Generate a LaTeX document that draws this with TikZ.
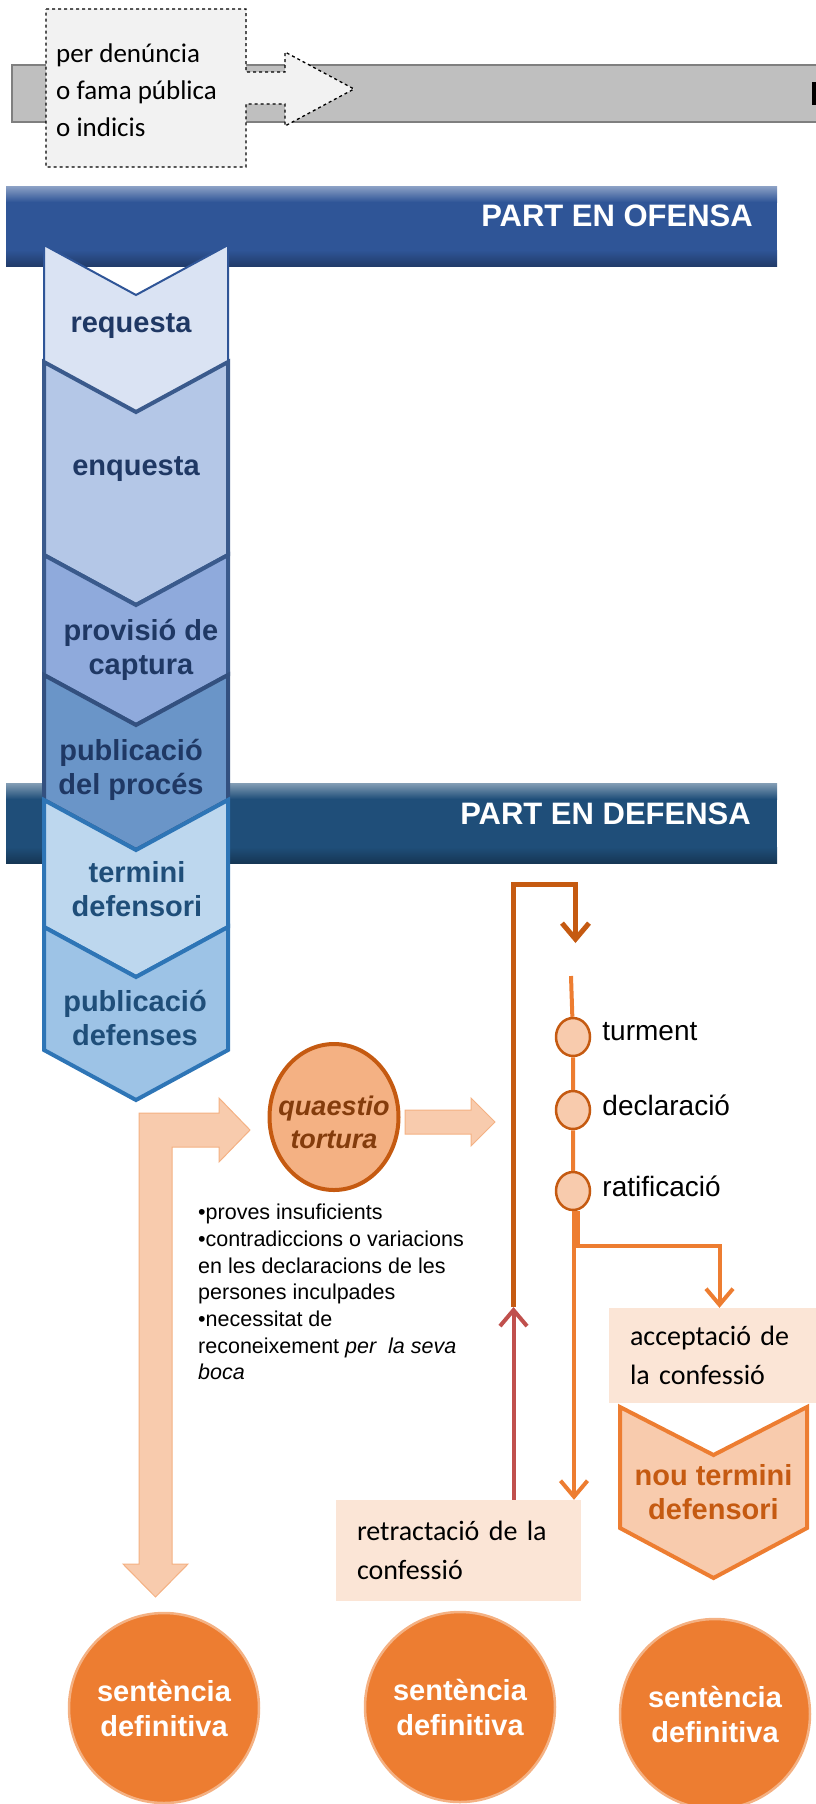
\documentclass[tikz,border=0pt]{standalone}
\usepackage{fontspec}
\setmainfont{Liberation Sans}
\newfontfamily\calibrifont{Carlito}
\usetikzlibrary{arrows.meta,shapes.geometric}
\definecolor{cbar}{RGB}{191, 191, 191}
\definecolor{cbarline}{RGB}{127, 127, 127}
\definecolor{cgrey}{RGB}{242, 242, 242}
\definecolor{cofensa}{RGB}{47, 85, 151}
\definecolor{cdefensa}{RGB}{31, 78, 121}
\definecolor{cchevA}{RGB}{218, 227, 243}
\definecolor{cchevB}{RGB}{180, 199, 231}
\definecolor{cchevC}{RGB}{143, 170, 220}
\definecolor{cchevD}{RGB}{106, 149, 200}
\definecolor{cchevE}{RGB}{189, 215, 238}
\definecolor{cchevF}{RGB}{157, 195, 230}
\definecolor{cslate}{RGB}{58, 90, 140}
\definecolor{cslatedark}{RGB}{51, 80, 127}
\definecolor{cblueline}{RGB}{46, 117, 182}
\definecolor{cnavy}{RGB}{31, 56, 100}
\definecolor{corange}{RGB}{237, 125, 49}
\definecolor{cdarkorange}{RGB}{197, 90, 17}
\definecolor{clightorange}{RGB}{248, 203, 173}
\definecolor{cpeach}{RGB}{244, 177, 131}
\definecolor{cbox}{RGB}{251, 229, 214}
\definecolor{cred}{RGB}{192, 80, 77}
\definecolor{cbrown}{RGB}{132, 60, 12}

\begin{document}
\begin{tikzpicture}[x=1pt,y=-1pt,
  chevtext/.style={font=\fontsize{29}{34}\selectfont\bfseries,align=center,inner sep=0pt},
  stage/.style={ellipse,draw=cdarkorange,line width=2.5pt,fill=clightorange,minimum width=34pt,minimum height=38pt,inner sep=0pt},
  notebox/.style={fill=cbox,align=left,inner xsep=21pt,inner ysep=0pt,font=\calibrifont\fontsize{28}{38.5}\selectfont},
  branch/.style={line width=4pt,draw=corange},
  barb/.style={-{Straight Barb[length=16pt,width=27pt]}},
  sentencia/.style={circle,fill=corange,draw=cpeach,line width=2.5pt,minimum size=190pt,inner sep=0pt,align=center,text=white,font=\fontsize{29}{35}\selectfont\bfseries}]
\useasboundingbox (0,0) rectangle (816,1804);

% grey band and the dashed call-out
\draw[line width=2pt,draw=cbarline,fill=cbar] (12,65) rectangle (840,122);
\fill (812,82) rectangle (816,105);
\draw[dashed,line width=1.3pt,fill=cgrey] (46,9) -- (246,9) -- (246,72) -- (285,72) -- (285,52) -- (354,89)
  -- (285,126) -- (285,104) -- (246,104) -- (246,167) -- (46,167) -- cycle;
\node[anchor=west,align=left,inner sep=0pt,font=\calibrifont\fontsize{27}{37}\selectfont] (origen) at (56,90)
  {per denúncia\\o fama pública\\o indicis};

% banners
\foreach \ytop/\bc in {186/cofensa, 783/cdefensa}{
  \fill[\bc] (6,\ytop) rectangle (777,\ytop+80);
  \shade[top color=\bc!55!white,bottom color=\bc] (6,\ytop) rectangle (777,\ytop+16);
  \shade[top color=\bc,bottom color=\bc!70!black] (6,\ytop+64) rectangle (777,\ytop+80);
}
\node[anchor=east,inner sep=0pt,text=white,font=\fontsize{31}{36}\selectfont\bfseries] (ofensa) at (753,216) {PART EN OFENSA};
\node[anchor=east,inner sep=0pt,text=white,font=\fontsize{31}{36}\selectfont\bfseries] (defensa) at (751,814) {PART EN DEFENSA};

% chevrons of the procedure
\foreach \ytop/\ybot/\fc/\dc/\lw in {245/362/cchevA/cofensa/2, 362/555/cchevB/cslate/4, 555/675/cchevC/cslate/4,
  675/800/cchevD/cslatedark/4, 800/927/cchevE/cblueline/4, 927/1050/cchevF/cblueline/4}{
  \draw[line width=\lw pt,draw=\dc,fill=\fc] (44,\ytop) -- (136,\ytop+50) -- (228,\ytop)
    -- (228,\ybot) -- (136,\ybot+50) -- (44,\ybot) -- cycle;
}
\node[chevtext,text=cnavy] (requesta) at (131,326) {requesta};
\node[chevtext,text=cnavy] (enquesta) at (136,469) {enquesta};
\node[chevtext,text=cnavy] (captura) at (141,650) {provisió de\\captura};
\node[chevtext,text=cnavy] (proces) at (131,770) {publicació\\del procés};
\node[chevtext,text=cdefensa] (termini) at (137,889) {termini\\defensori};
\node[chevtext,text=cdefensa] (defenses) at (135,1018) {publicació\\defenses};

% quaestio and its arrows
\node[ellipse,draw=cdarkorange,line width=4pt,fill=cpeach,minimum width=129pt,minimum height=146pt,inner sep=0pt] (quaestio) at (334,1117) {};
\node[align=center,inner sep=0pt,text=cbrown,font=\fontsize{27}{33}\selectfont\bfseries\itshape] (quaestio-text) at ([yshift=-5pt]quaestio) {quaestio\\tortura};
\draw[line width=1pt,draw=cpeach,fill=clightorange] (123,1564) -- (139,1564) -- (139,1113) -- (219,1113) -- (219,1098)
  -- (250,1130) -- (219,1162) -- (219,1147) -- (172,1147) -- (172,1564) -- (188,1564) -- (155.5,1597) -- cycle;
\draw[line width=1pt,draw=cpeach,fill=clightorange] (405,1110) -- (471,1110) -- (471,1098) -- (495,1122)
  -- (471,1146) -- (471,1134) -- (405,1134) -- cycle;
\node[anchor=west,align=left,inner sep=0pt,font=\fontsize{21.5}{26.7}\selectfont] (motius) at (198,1292)
  {•proves insuficients\\•contradiccions o variacions\\en les declaracions de les\\persones inculpades\\•necessitat de\\reconeixement \textit{per~ la seva}\\\textit{boca}};

% torment, declaration, ratification
\coordinate (inici) at (571,976);
\node[stage] (turment) at (573,1037) {};
\node[stage] (declaracio) at (573,1110) {};
\node[stage] (ratificacio) at (573,1191) {};
\foreach \nm/\lbl in {turment/turment, declaracio/declaració, ratificacio/ratificació}{
  \node[anchor=west,inner sep=0pt,font=\fontsize{28}{32}\selectfont] at ([xshift=11pt,yshift=5pt]\nm.east) {\lbl};
}
\draw[line width=4pt,draw=corange] (inici) -- (turment) -- (declaracio) -- (ratificacio);

\node[notebox,text width=179pt,minimum height=95pt] (accept) at (719.5,1355.5) {acceptació de\\la confessió};
\node[notebox,text width=203pt,minimum height=101pt] (retr) at (458.5,1550.5) {retractació de la\\confessió};

\draw[line width=4pt,draw=corange,fill=clightorange] (620,1407) -- (713.5,1455) -- (807,1407) -- (807,1528)
  -- (713.5,1578) -- (620,1528) -- cycle;
\node[chevtext,text=cdarkorange] (nou) at (713.5,1492) {nou termini\\defensori};

\draw[branch,barb] ([xshift=1pt]ratificacio.south) -- ([xshift=1pt]ratificacio.south |- retr.north);
\draw[branch,barb] ([xshift=5pt]ratificacio.south) -- ++(0,35) -| (accept.north);

% back to the torment
\coordinate (gir) at (513.5,1307);
\coordinate (retorn) at (575.5,943);
\draw[line width=4pt,draw=cred,barb] (retr.north -| gir) -- (gir);
\draw[line width=5pt,draw=cdarkorange,barb] (gir) |- ([yshift=58.5pt]retorn) -- (retorn);

% final sentences
\node[sentencia] (sentA) at (164,1708) {sentència\\definitiva};
\node[sentencia] (sentB) at (460,1707) {sentència\\definitiva};
\node[sentencia] (sentC) at (715,1714) {sentència\\definitiva};

\end{tikzpicture}
\end{document}
